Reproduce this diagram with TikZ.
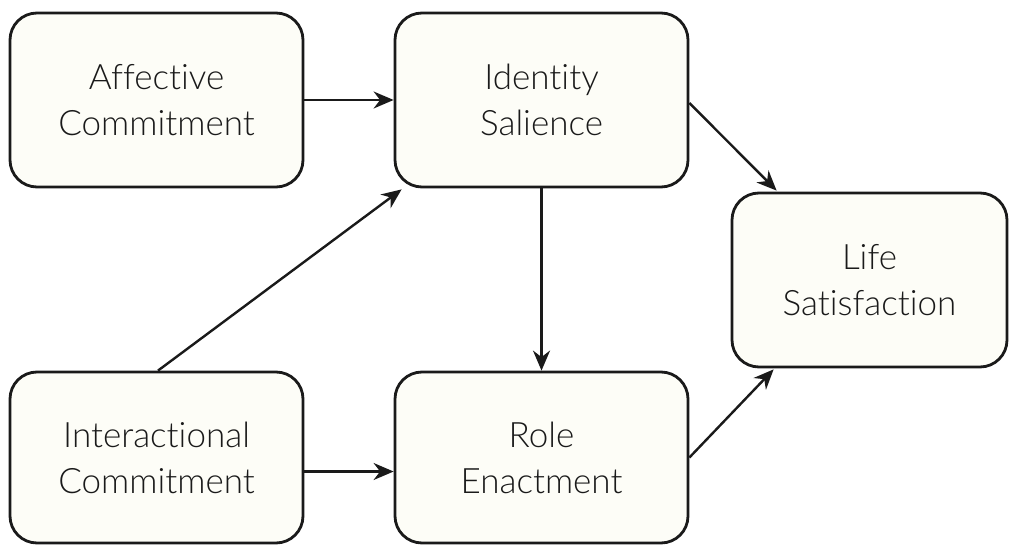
\documentclass[tikz,border=0pt]{standalone}
\usepackage{fontspec}
\setmainfont{Lato}[UprightFont={* Light},Ligatures=NoCommon]
\usetikzlibrary{arrows.meta}
\definecolor{boxfill}{HTML}{FDFDF7}
\definecolor{ink}{HTML}{1A1A1A}
\begin{document}
\begin{tikzpicture}[x=1pt,y=-1pt,
  concept/.style={draw=ink, line width=2.8pt, fill=boxfill, rounded corners=27pt,
    minimum width=293pt, minimum height=174pt, inner sep=0pt, align=center,
    text=ink, font=\fontsize{35}{46}\selectfont},
  link/.style={draw=ink, line width=2.4pt, -{Stealth[length=20pt,width=17pt]}}]
\useasboundingbox (0,0) rectangle (1011,545);
% boxes
\node[concept] (aff)  at (156.5,100) {Affective\\Commitment};
\node[concept] (ide)  at (541.5,100) {Identity\\Salience};
\node[concept, minimum width=275pt] (life) at (869.5,280) {Life\\Satisfaction};
\node[concept, minimum height=171pt] (int)  at (156.5,457.5) {Interactional\\Commitment};
\node[concept, minimum height=171pt] (role) at (541.5,457.5) {Role\\Enactment};
% paths
\draw[link] (aff.east) -- (ide.west);
\draw[link] ([yshift=-14pt]int.east) -- ([yshift=-14pt]role.west);
\draw[link] (ide.south) -- (role.north);
\draw[link] ([xshift=1.5pt]int.north) -- ([xshift=8pt,yshift=-1pt]ide.south west);
\draw[link] ([yshift=-3pt]ide.east) -- ([xshift=46pt,yshift=1pt]life.north west);
\draw[link] (role.east) -- ([xshift=43pt,yshift=-1pt]life.south west);
\end{tikzpicture}
\end{document}
